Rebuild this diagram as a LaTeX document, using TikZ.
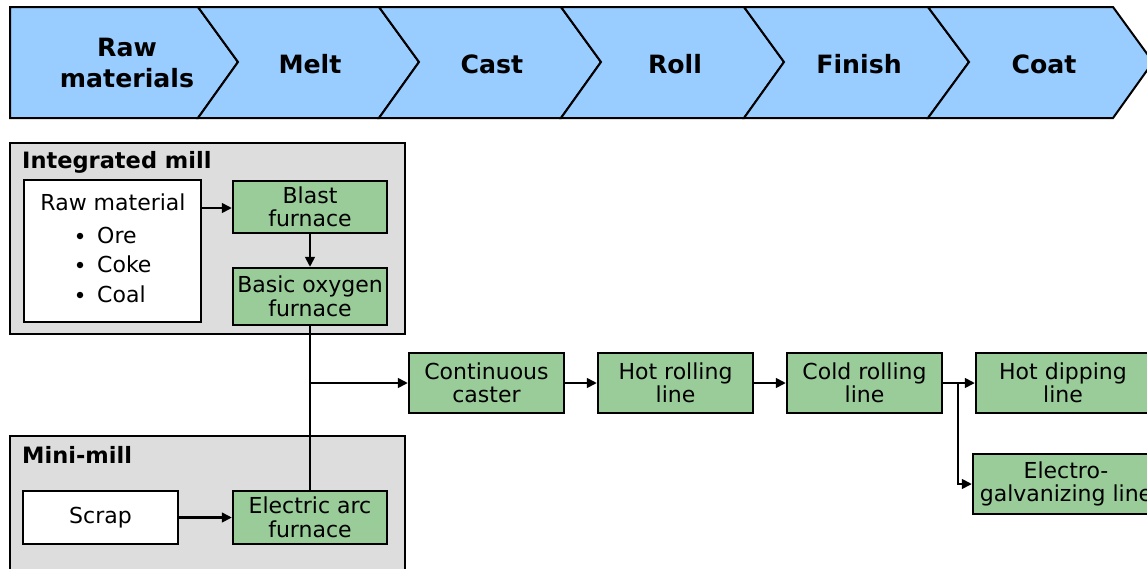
\documentclass[tikz,border=0pt]{standalone}
\usepackage{fontspec}
\setmainfont{DejaVu Sans}
\usetikzlibrary{arrows.meta}
\definecolor{chevblue}{HTML}{99CCFF}
\definecolor{procgreen}{HTML}{99CC99}
\definecolor{millgray}{HTML}{DDDDDD}
\tikzset{
  chev/.style={draw=black, fill=chevblue, line width=2pt, line join=miter},
  chevtext/.style={font=\fontsize{25.2}{31}\selectfont\bfseries, align=center, inner sep=0pt},
  grp/.style={draw=black, fill=millgray, line width=2pt},
  grptext/.style={font=\fontsize{22.5}{26}\selectfont\bfseries, anchor=west, inner sep=0pt},
  procbox/.style={draw=black, fill=procgreen, line width=2.2pt, inner sep=0pt, align=center,
    font=\fontsize{22}{23.5}\selectfont},
  whitebox/.style={draw=black, fill=white, line width=2.2pt, inner sep=0pt, align=center,
    font=\fontsize{22}{23.5}\selectfont},
  plain/.style={font=\fontsize{22}{23.5}\selectfont, inner sep=0pt},
  bul/.style={circle, fill=black, inner sep=0pt, minimum size=6.5pt},
  link/.style={line width=2.5pt},
  arr/.style={line width=2.5pt, -{Triangle[length=10pt,width=9.5pt]}},
}
\begin{document}
\begin{tikzpicture}[x=1pt,y=-1pt]
\useasboundingbox (0,0) rectangle (1147,568);
\begin{scope}
\clip (0,0) rectangle (1147,568);
% chevrons
\draw[chev] (10,7) -- (198,7) -- (238,62) -- (198,118) -- (10,118) -- cycle;
\draw[chev] (198,7) -- (379,7) -- (419,62) -- (379,118) -- (198,118) -- (238,62) -- cycle;
\draw[chev] (379,7) -- (561,7) -- (601,62) -- (561,118) -- (379,118) -- (419,62) -- cycle;
\draw[chev] (561,7) -- (744,7) -- (784,62) -- (744,118) -- (561,118) -- (601,62) -- cycle;
\draw[chev] (744,7) -- (928,7) -- (969,62) -- (928,118) -- (744,118) -- (784,62) -- cycle;
\draw[chev] (928,7) -- (1113,7) -- (1153,62) -- (1113,118) -- (928,118) -- (969,62) -- cycle;
\node[chevtext] (t1) at (127,63) {Raw\\materials};
\node[chevtext] (t2) at (310,64) {Melt};
\node[chevtext] (t3) at (492,64) {Cast};
\node[chevtext] (t4) at (675,64) {Roll};
\node[chevtext] (t5) at (859,64) {Finish};
\node[chevtext] (t6) at (1044,64) {Coat};

% groups
\draw[grp] (10,143) rectangle (405,334);
\node[grptext] (gl1) at (22,162) {Integrated mill};
\draw[grp] (10,436) rectangle (405,590);
\node[grptext] (gl2) at (22,455) {Mini-mill};

% integrated mill
\node[whitebox, minimum width=177pt, minimum height=142pt] (rawm) at (112.5,251) {};
\node[plain] (rmt) at (113,202) {Raw material};
\node[bul] (b1) at (80,236) {};
\node[bul] (b2) at (80,265) {};
\node[bul] (b3) at (80,295) {};
\node[plain, anchor=west] (i1) at (97,235) {Ore};
\node[plain, anchor=west] (i2) at (97,264) {Coke};
\node[plain, anchor=west] (i3) at (97,294) {Coal};
\node[procbox, minimum width=154pt, minimum height=52pt] (blast) at (310,207) {Blast\\furnace};
\node[procbox, minimum width=154pt, minimum height=57pt] (bof) at (310,296.5) {Basic oxygen\\furnace};

% mini mill
\node[whitebox, minimum width=155pt, minimum height=53pt] (scrap) at (100.5,517.5) {Scrap};
\node[procbox, minimum width=154pt, minimum height=53pt] (eaf) at (310,517.5) {Electric arc\\furnace};

% process line
\node[procbox, minimum width=155pt, minimum height=60pt] (cc) at (486.5,383) {Continuous\\caster};
\node[procbox, minimum width=155pt, minimum height=60pt] (hr) at (675.5,383) {Hot rolling\\line};
\node[procbox, minimum width=155pt, minimum height=60pt] (cr) at (864.5,383) {Cold rolling\\line};
\node[procbox, minimum width=174pt, minimum height=60pt] (hd) at (1063,383) {Hot dipping\\line};
\node[procbox, minimum width=186pt, minimum height=60pt] (eg) at (1066,484) {Electro-\\galvanizing line};

% connectors
\draw[arr] (rawm.east |- 0,208) -- (blast.west |- 0,208);
\draw[arr] (blast) -- (bof);
\draw[link] (bof.south) -- (eaf.north);
\coordinate (j1) at (310,383);
\draw[arr] (j1) -- (cc.west);
\draw[arr] (cc) -- (hr);
\draw[arr] (hr) -- (cr);
\draw[arr] (cr.east) -- (hd.west);
\coordinate (j2) at (958,383);
\draw[arr] (j2) |- (eg.west);
\draw[arr] (scrap) -- (eaf);
\end{scope}
\end{tikzpicture}
\end{document}
